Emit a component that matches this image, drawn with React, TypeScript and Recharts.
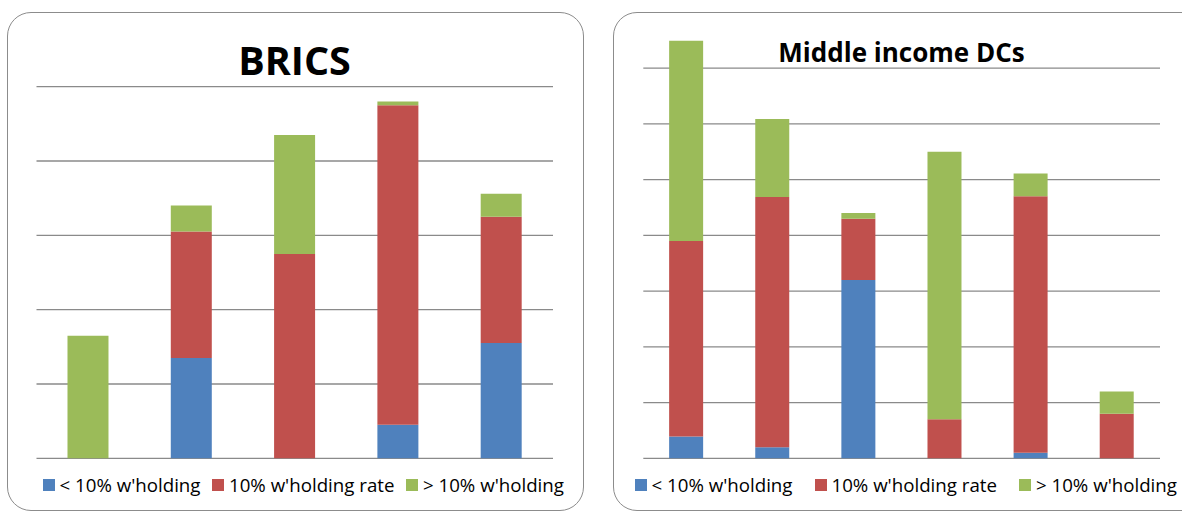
import { BarChart, Bar, XAxis, YAxis, CartesianGrid } from 'recharts'

// series names + colours (Excel 2007 palette)
const seriesNames = ['< 10% w\'holding', '10% w\'holding rate', '> 10% w\'holding']
const seriesColors = ['#4F81BD', '#C0504D', '#9BBB59']

// BRICS panel
const bricsCategories = ['Brazil', 'Russia', 'India', 'China', 'South Africa']
const bricsLow = [0, 13.5, 0, 4.5, 15.5]
const bricsMid = [0, 17.0, 27.5, 43.0, 17.0]
const bricsHigh = [16.5, 3.5, 16.0, 0.5, 3.1]
const bricsTicks = [0, 10, 20, 30, 40, 50]

// Middle income DCs panel
const dcCategories = ['DC1', 'DC2', 'DC3', 'DC4', 'DC5', 'DC6']
const dcLow = [3.9, 2.0, 32.0, 0, 1.0, 0]
const dcMid = [35.1, 44.9, 11.0, 7.0, 46.0, 8.0]
const dcHigh = [35.9, 14.0, 1.0, 48.0, 4.1, 4.0]
const dcTicks = [0, 10, 20, 30, 40, 50, 60, 70]

const FONT = '"Open Sans", Calibri, sans-serif'

const build = (cats: string[], a: number[], b: number[], c: number[]) =>
  cats.map((name, i) => ({ name, low: a[i], mid: b[i], high: c[i] }))

const keys = ['low', 'mid', 'high']

const LegendRow = ({ left, top, gap }: { left: number; top: number; gap: number }) => (
  <div
    style={{
      position: 'absolute',
      left,
      top,
      display: 'flex',
      alignItems: 'center',
      gap,
      fontFamily: FONT,
      fontSize: 18.7,
      color: '#000',
      whiteSpace: 'nowrap',
    }}
  >
    {seriesNames.map((n, i) => (
      <div key={n} style={{ display: 'flex', alignItems: 'center', gap: 4.5 }}>
        <span style={{ width: 12, height: 12, background: seriesColors[i], display: 'inline-block' }} />
        <span style={{ lineHeight: '20px' }}>{n}</span>
      </div>
    ))}
  </div>
)

type PanelProps = {
  data: { name: string; low: number; mid: number; high: number }[]
  ticks: number[]
  max: number
  width: number
  margin: { top: number; right: number; bottom: number; left: number }
}

const StackedPanel = ({ data, ticks, max, width, margin }: PanelProps) => (
  <BarChart width={width} height={512} data={data} margin={margin} barCategoryGap="30%">
    <CartesianGrid vertical={false} horizontalValues={ticks} stroke="#8a8a8a" strokeWidth={1.3} />
    <XAxis dataKey="name" hide />
    <YAxis hide domain={[0, max]} ticks={ticks} />
    {keys.map((k, i) => (
      <Bar key={k} dataKey={k} stackId="s" fill={seriesColors[i]} isAnimationActive={false} />
    ))}
  </BarChart>
)

export default function App() {
  return (
    <div
      style={{
        position: 'absolute',
        left: 0,
        top: 0,
        width: 1182,
        height: 512,
        overflow: 'hidden',
        background: '#fff',
      }}
    >
      {/* left panel frame */}
      <div
        style={{
          position: 'absolute',
          left: 6.5,
          top: 12,
          width: 577,
          height: 499,
          boxSizing: 'border-box',
          border: '1.5px solid #8c8c8c',
          borderRadius: 24,
        }}
      />
      {/* right panel frame */}
      <div
        style={{
          position: 'absolute',
          left: 612.5,
          top: 12,
          width: 600,
          height: 499,
          boxSizing: 'border-box',
          border: '1.5px solid #8c8c8c',
          borderRadius: 24,
        }}
      />

      <div style={{ position: 'absolute', left: 0, top: 0 }}>
        <StackedPanel
          data={build(bricsCategories, bricsLow, bricsMid, bricsHigh)}
          ticks={bricsTicks}
          max={50}
          width={590}
          margin={{ top: 86.7, right: 37, bottom: 53.7, left: 36.5 }}
        />
      </div>
      <div style={{ position: 'absolute', left: 600, top: 0 }}>
        <StackedPanel
          data={build(dcCategories, dcLow, dcMid, dcHigh)}
          ticks={dcTicks}
          max={75}
          width={582}
          margin={{ top: 40.3, right: 22, bottom: 53.7, left: 43.3 }}
        />
      </div>

      {/* titles */}
      <div
        style={{
          position: 'absolute',
          left: 0,
          width: 589,
          top: 41,
          textAlign: 'center',
          fontFamily: FONT,
          fontWeight: 700,
          fontSize: 39.5,
          lineHeight: '39.5px',
        }}
      >
        BRICS
      </div>
      <div
        style={{
          position: 'absolute',
          left: 643,
          width: 517,
          top: 39,
          textAlign: 'center',
          fontFamily: FONT,
          fontWeight: 700,
          fontSize: 26,
          lineHeight: '26px',
        }}
      >
        Middle income DCs
      </div>

      <LegendRow left={43} top={475} gap={12} />
      <LegendRow left={635} top={475} gap={22.5} />
    </div>
  )
}
